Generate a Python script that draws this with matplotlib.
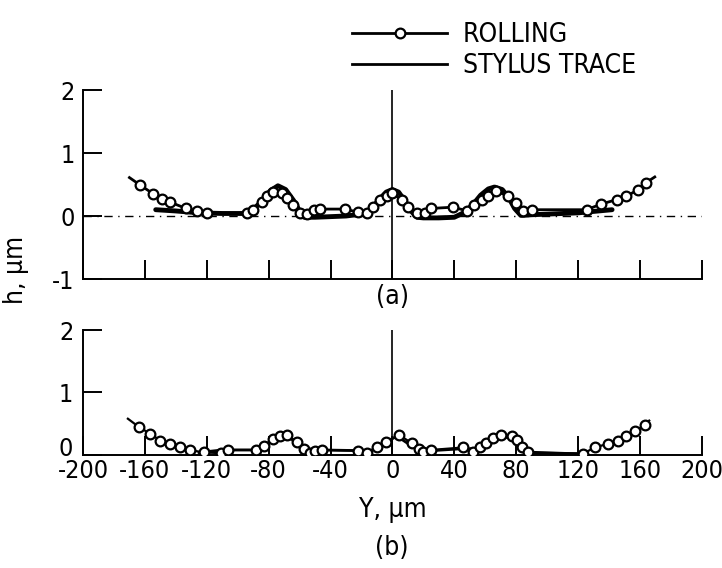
import matplotlib
matplotlib.use("Agg")
import matplotlib.pyplot as plt
import matplotlib.transforms as mtransforms
from matplotlib.lines import Line2D

plt.rcParams['font.family'] = ['DejaVu Sans']
plt.rcParams['font.stretch'] = 'condensed'
plt.rcParams['axes.unicode_minus'] = False

# (a) rolling profile, Y in um, h in um
roll_a_y = [-170, -163, -154.5, -149, -143.7, -133.4, -126.5, -120, -94, -90, -84.5, -81, -77,
            -71.6, -68, -64, -60, -55, -51, -47, -30.7, -22, -16.7, -12.4, -8, -3.7, 0, 6,
            10, 15.6, 21, 25, 39, 48, 53, 57.6, 62, 67, 75, 80, 84.5, 90, 125.5, 135, 145,
            151, 159, 164, 169.6]
roll_a_h = [0.61, 0.49, 0.35, 0.27, 0.22, 0.12, 0.085, 0.05, 0.04, 0.1, 0.23, 0.32, 0.38,
            0.37, 0.29, 0.17, 0.05, 0.03, 0.09, 0.11, 0.11, 0.06, 0.05, 0.14, 0.25, 0.32, 0.37,
            0.25, 0.14, 0.05, 0.05, 0.12, 0.14, 0.085, 0.18, 0.25, 0.32, 0.39, 0.32, 0.21,
            0.085, 0.1, 0.1, 0.19, 0.26, 0.31, 0.42, 0.53, 0.62]
roll_a_mark = [False] + [True] * 47 + [False]

# (a) stylus trace
sty_a_y = [-153, -140, -125, -110, -97, -90, -84, -79, -74, -69, -64, -60, -57, -50, -40,
           -30, -20, -14, -9, -4, 0, 4, 8, 12, 16, 20, 30, 40, 46, 52, 57, 62, 66, 71, 75,
           79, 83, 90, 100, 120, 142]
sty_a_h = [0.1, 0.08, 0.05, 0.04, 0.04, 0.1, 0.25, 0.4, 0.48, 0.42, 0.25, 0.08, -0.02,
           -0.02, -0.01, 0.0, 0.03, 0.1, 0.25, 0.38, 0.42, 0.38, 0.24, 0.08, -0.02, -0.03,
           -0.03, -0.02, 0.05, 0.18, 0.33, 0.43, 0.46, 0.42, 0.3, 0.12, 0.01, 0.02, 0.03,
           0.05, 0.1]

# (b) rolling profile
roll_b_y = [-171, -164, -156.6, -150, -143.7, -137, -131, -122, -111, -106, -88, -83, -77,
            -72.7, -68, -62, -57, -53, -50, -45.7, -22, -16.7, -10, -4, 4.4, 12.4, 17, 20,
            25, 45.7, 51.8, 56.5, 60.4, 65, 70.5, 77.6, 80.6, 83.5, 87.7, 123, 131, 139.4,
            146, 151, 157, 163, 166]
roll_b_h = [0.58, 0.45, 0.34, 0.23, 0.18, 0.13, 0.08, 0.04, 0.03, 0.08, 0.08, 0.145, 0.25,
            0.3, 0.32, 0.21, 0.09, 0.03, 0.07, 0.08, 0.07, 0.03, 0.13, 0.21, 0.32, 0.19, 0.1,
            0.04, 0.08, 0.12, 0.04, 0.13, 0.19, 0.27, 0.32, 0.3, 0.24, 0.13, 0.05, 0.02,
            0.12, 0.18, 0.23, 0.3, 0.38, 0.48, 0.55]
roll_b_mark = [False] + [True] * 45 + [False]

# (b) stylus trace
sty_b_y = [-125, -110, -88, -80, -72, -65, -58, -52, -45, -22, -15, -5, 3, 12, 20, 45, 55,
           70, 80, 88, 125]
sty_b_h = [0.04, 0.08, 0.08, 0.2, 0.3, 0.25, 0.08, 0.05, 0.08, 0.07, 0.05, 0.2, 0.3, 0.15,
           0.06, 0.1, 0.1, 0.3, 0.25, 0.03, 0.02]

x_ticks = list(range(-200, 201, 40))

fig = plt.figure(figsize=(7.22, 5.68), dpi=100)
ax_a = fig.add_axes([0.115, 0.5088, 0.857, 0.3327])
ax_b = fig.add_axes([0.115, 0.199, 0.857, 0.220])

fs = 18

for ax in (ax_a, ax_b):
    ax.set_xlim(-200, 200)
    ax.spines['top'].set_visible(False)
    ax.spines['right'].set_visible(False)
    for s in ('left', 'bottom'):
        ax.spines[s].set_linewidth(1.4)
    ax.set_xticks(x_ticks)
    ax.tick_params(direction='in', length=14, width=1.4, labelsize=fs, pad=6)

# panel (a)
ax_a.set_ylim(-1, 2)
ax_a.set_yticks([-1, 0, 1, 2])
ax_a.set_yticklabels(['-1', '0', '1', '2'])
ax_a.tick_params(axis='x', labelbottom=False)
ax_a.axhline(0, color='black', lw=1.0, ls=(0, (6, 4, 1, 4)))
ax_a.axvline(0, color='black', lw=1.2)
ax_a.plot(sty_a_y, sty_a_h, color='black', lw=3.5, solid_capstyle='round', zorder=2)
ax_a.plot(roll_a_y, roll_a_h, color='black', lw=2, marker='o', markersize=7,
          markerfacecolor='white', markeredgecolor='black', markeredgewidth=1.6,
          markevery=roll_a_mark, zorder=3)

# panel (b)
ax_b.set_ylim(0, 2)
ax_b.set_yticks([0, 1, 2])
ax_b.set_yticklabels(['0', '1', '2'])
ax_b.tick_params(axis='x', pad=3)
ax_b.tick_params(axis='y', pad=7)
ax_b.plot([0, 0], [0, 2], color='black', lw=1.2)
ax_b.plot(sty_b_y, sty_b_h, color='black', lw=2, zorder=2)
ax_b.plot(roll_b_y, roll_b_h, color='black', lw=1.6, marker='o', markersize=7,
          markerfacecolor='white', markeredgecolor='black', markeredgewidth=1.6,
          markevery=roll_b_mark, zorder=3)
ax_b.set_xlabel('Y, µm', fontsize=19, labelpad=10)

# lift the "0" of panel (b) a little so it clears "-200"
zero_lbl = ax_b.get_yticklabels()[0]
zero_lbl.set_transform(zero_lbl.get_transform() +
                       mtransforms.ScaledTranslation(0, 6 / 72, fig.dpi_scale_trans))

fig.text(0.543, 1 - 297 / 568, '(a)', fontsize=19, ha='center', va='center')
fig.text(0.543, 1 - 548 / 568, '(b)', fontsize=19, ha='center', va='center')
fig.text(0.022, 1 - 270 / 568, 'h, µm', fontsize=19, ha='center', va='center',
         rotation=90)

handles = [
    Line2D([], [], color='black', lw=2, marker='o', markersize=7,
           markerfacecolor='white', markeredgewidth=1.6),
    Line2D([], [], color='black', lw=2),
]
fig.legend(handles, ['ROLLING', 'STYLUS TRACE'], loc='upper left',
           bbox_to_anchor=(352 / 722, 1 - 22 / 568), frameon=False, fontsize=19,
           handlelength=3.6, handletextpad=0.6, borderpad=0, borderaxespad=0,
           labelspacing=0.2, numpoints=1)

fig.savefig('out.png', dpi=100)
